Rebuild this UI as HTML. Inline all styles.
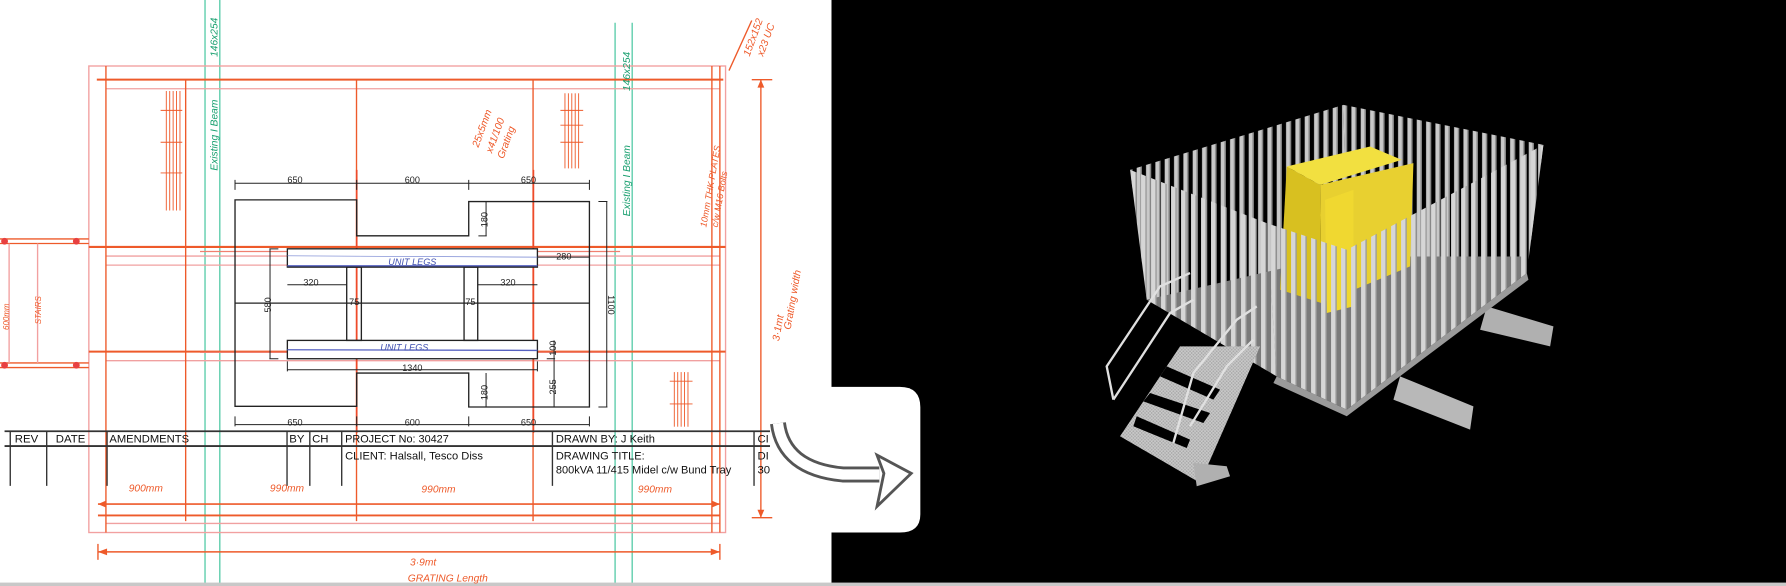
<!DOCTYPE html>
<html><head><meta charset="utf-8"><style>
html,body{margin:0;padding:0;background:#fff}
svg{display:block}
text{font-family:"Liberation Sans",sans-serif}
</style></head><body>
<svg width="1786" height="586" viewBox="0 0 1568 515" preserveAspectRatio="none" xmlns="http://www.w3.org/2000/svg">
<defs>
<pattern id="bars" width="28" height="40" patternUnits="userSpaceOnUse">
<rect x="2" y="0" width="15" height="40" fill="#c9c9c9"/>
<rect x="13" y="0" width="4" height="40" fill="#8a8a8a"/>
</pattern>
<pattern id="bars2" width="30" height="40" patternUnits="userSpaceOnUse">
<rect x="3" y="0" width="17" height="40" fill="#d6d6d6"/>
<rect x="16" y="0" width="4" height="40" fill="#9a9a9a"/>
</pattern>
<pattern id="mesh" width="10" height="10" patternUnits="userSpaceOnUse">
<rect width="10" height="10" fill="#a8a8a8"/><path d="M0 0L10 10M10 0L0 10" stroke="#d0d0d0" stroke-width="2"/>
</pattern>
</defs>
<rect x="0" y="0" width="1568" height="515" fill="#fff"/>
<rect x="730" y="0" width="838" height="515" fill="#000"/>
<path d="M700 340 H790 Q808 340 808 358 V452 Q808 468 790 468 H700 Z" fill="#fff"/>
<rect x="0" y="512" width="1568" height="3" fill="#c8c8c8"/>

<!-- green lines -->
<g stroke="#3cc39a" stroke-width="1">
<line x1="180" y1="0" x2="180" y2="512"/><line x1="193" y1="0" x2="193" y2="512"/>
<line x1="540" y1="20" x2="540" y2="512"/><line x1="555" y1="20" x2="555" y2="512"/>
</g>
<!-- red structure -->
<g stroke="#ee5a2a" stroke-width="1.2" fill="none">
<rect x="78" y="58" width="559" height="410" stroke="#f2a0a0"/>
<line x1="85" y1="70" x2="635" y2="70" stroke-width="1.8"/>
<line x1="93" y1="78" x2="632" y2="78" stroke="#f0a0a0"/>
<line x1="78" y1="217" x2="637" y2="217" stroke-width="1.8"/>
<line x1="93" y1="225" x2="632" y2="225" stroke="#f0a0a0"/>
<line x1="93" y1="233" x2="632" y2="233" stroke="#f0a0a0"/>
<line x1="78" y1="309" x2="637" y2="309" stroke-width="1.8"/>
<line x1="93" y1="317" x2="632" y2="317" stroke="#f0a0a0"/>
<line x1="86" y1="453" x2="632" y2="453" stroke-width="1.6"/>
<line x1="93" y1="460" x2="632" y2="460" stroke="#f0a0a0"/>
<line x1="93" y1="58" x2="93" y2="468"/>
<line x1="163" y1="70" x2="163" y2="458"/>
<line x1="313" y1="70" x2="313" y2="458"/>
<line x1="468" y1="70" x2="468" y2="458"/>
<line x1="625" y1="58" x2="625" y2="468"/>
<line x1="632" y1="58" x2="632" y2="468"/>
<line x1="86" y1="443" x2="632" y2="443" stroke-width="1.4"/>
<line x1="86" y1="485" x2="632" y2="485" stroke-width="1.4"/>
<line x1="86" y1="478" x2="86" y2="492"/><line x1="632" y1="478" x2="632" y2="492"/>
<line x1="668" y1="70" x2="668" y2="455"/>
<line x1="660" y1="70" x2="678" y2="70"/><line x1="660" y1="455" x2="678" y2="455"/>
<line x1="640" y1="62" x2="660" y2="18"/>
<!-- left stair stub -->
<line x1="0" y1="210" x2="78" y2="210"/><line x1="0" y1="214" x2="78" y2="214"/>
<line x1="0" y1="319" x2="78" y2="319"/><line x1="0" y1="323" x2="78" y2="323"/>
<line x1="8" y1="214" x2="8" y2="319" stroke="#f2a0a0"/><line x1="33" y1="214" x2="33" y2="319" stroke="#f2a0a0"/>
<!-- hatches -->
<g stroke-width="0.8">
<line x1="146" y1="80" x2="146" y2="185"/><line x1="149" y1="80" x2="149" y2="185"/><line x1="152" y1="80" x2="152" y2="185"/><line x1="155" y1="80" x2="155" y2="185"/><line x1="158" y1="80" x2="158" y2="185"/>
<line x1="141" y1="97" x2="160" y2="97"/><line x1="141" y1="125" x2="160" y2="125"/><line x1="141" y1="152" x2="160" y2="152"/>
<line x1="496" y1="82" x2="496" y2="148"/><line x1="499" y1="82" x2="499" y2="148"/><line x1="502" y1="82" x2="502" y2="148"/><line x1="505" y1="82" x2="505" y2="148"/><line x1="508" y1="82" x2="508" y2="148"/>
<line x1="492" y1="97" x2="512" y2="97"/><line x1="492" y1="110" x2="512" y2="110"/><line x1="492" y1="125" x2="512" y2="125"/>
<line x1="592" y1="327" x2="592" y2="375"/><line x1="595" y1="327" x2="595" y2="375"/><line x1="598" y1="327" x2="598" y2="375"/><line x1="601" y1="327" x2="601" y2="375"/><line x1="604" y1="327" x2="604" y2="375"/>
<line x1="588" y1="335" x2="608" y2="335"/><line x1="588" y1="355" x2="608" y2="355"/>
</g>
</g>
<g fill="#e84040"><circle cx="4" cy="212" r="3"/><circle cx="67" cy="212" r="3"/><circle cx="4" cy="321" r="3"/><circle cx="67" cy="321" r="3"/></g>
<g fill="#ee5a2a"><path d="M86 443 l7 -3 v6z M632 443 l-7 -3 v6z M86 485 l8 -3 v6z M632 485 l-8 -3 v6z M668 70 l-3 7 h6z M668 455 l-3 -7 h6z"/></g>

<!-- black central drawing -->
<g transform="translate(175.6,149.3) scale(0.2927)" fill="none" stroke="#222" stroke-width="4">
<line x1="470" y1="0" x2="470" y2="790" stroke="#ee4a2a" stroke-width="5"/>
<line x1="1000" y1="0" x2="1000" y2="790" stroke="#ee4a2a" stroke-width="5"/>
<line x1="0" y1="245" x2="1260" y2="245" stroke="#f08070" stroke-width="4"/>
<line x1="0" y1="548" x2="1260" y2="548" stroke="#f08070" stroke-width="4"/>
<path d="M105 90H470V198H806V95H1168V712H806V610H470V710H105Z"/>
<line x1="105" y1="400" x2="1168" y2="400"/>
<rect x="262" y="237" width="750" height="55" fill="#fff"/>
<line x1="262" y1="288" x2="1012" y2="288" stroke="#5560c0"/>
<line x1="262" y1="258" x2="1012" y2="262" stroke="#7080d0" stroke-width="2"/>
<rect x="262" y="512" width="750" height="55" fill="#fff"/>
<line x1="262" y1="540" x2="1012" y2="542" stroke="#5560c0"/>
<rect x="440" y="292" width="44" height="220"/><rect x="792" y="292" width="41" height="220"/>
<g stroke-width="3">
<path d="M105 40H1168M105 30V60M470 30V60M806 30V60M1168 30V60"/>
<path d="M105 765H1168M105 740V770M470 740V770M806 740V770M1168 740V770"/>
<path d="M1220 95V712M1195 95H1222M1195 712H1222"/>
<path d="M210 237V567M208 237H235M208 567H235"/>
<path d="M262 345H440M833 345H1012M1012 262H1168M262 600H1012M262 575V605M1012 575V605"/>
<path d="M858 95V198M835 198H860M858 610V712M1062 512V712M1040 567H1065"/>
</g>
</g>
<g font-size="8" fill="#222" text-anchor="middle">
<text x="259" y="161">650</text><text x="362" y="161">600</text><text x="464" y="161">650</text>
<text x="259" y="374">650</text><text x="362" y="374">600</text><text x="464" y="374">650</text>
<text x="273" y="251">320</text><text x="446" y="251">320</text>
<text x="311" y="268">75</text><text x="413" y="268">75</text>
<text x="495" y="228">280</text><text x="362" y="326">1340</text>
<text transform="translate(238,268) rotate(-90)">580</text>
<text transform="translate(534,268) rotate(90)">1100</text>
<text transform="translate(428,193) rotate(-90)">180</text>
<text transform="translate(428,345) rotate(-90)">180</text>
<text transform="translate(488,340) rotate(-90)">255</text>
<text transform="translate(488,306) rotate(-90)">100</text>
</g>
<g font-size="8" fill="#4050b0" font-style="italic" text-anchor="middle"><text x="362" y="233">UNIT LEGS</text><text x="355" y="308">UNIT LEGS</text></g>

<!-- title block -->
<g stroke="#333" stroke-width="1.2">
<line x1="4" y1="379" x2="676" y2="379" stroke-width="1.6"/>
<line x1="4" y1="392" x2="676" y2="392" stroke-width="1.6"/>
<line x1="9" y1="379" x2="9" y2="427"/><line x1="41" y1="379" x2="41" y2="427"/>
<line x1="94" y1="379" x2="94" y2="427"/><line x1="252" y1="379" x2="252" y2="427"/>
<line x1="272" y1="379" x2="272" y2="427"/><line x1="300" y1="379" x2="300" y2="427"/>
<line x1="485" y1="379" x2="485" y2="427"/><line x1="662" y1="379" x2="662" y2="427"/>
</g>
<g font-size="10" fill="#111">
<text x="13" y="389">REV</text><text x="49" y="389">DATE</text>
<text x="96" y="389" textLength="70" lengthAdjust="spacingAndGlyphs">AMENDMENTS</text>
<text x="254" y="389">BY</text><text x="274" y="389">CH</text>
<text x="303" y="389" textLength="91" lengthAdjust="spacingAndGlyphs">PROJECT No: 30427</text>
<text x="488" y="389" textLength="87" lengthAdjust="spacingAndGlyphs">DRAWN BY: J Keith</text>
<text x="665" y="389">CI</text>
<text x="303" y="404" textLength="121" lengthAdjust="spacingAndGlyphs">CLIENT: Halsall, Tesco Diss</text>
<text x="488" y="404" textLength="78" lengthAdjust="spacingAndGlyphs">DRAWING TITLE:</text>
<text x="488" y="416" textLength="154" lengthAdjust="spacingAndGlyphs">800kVA 11/415 Midel c/w Bund Tray</text>
<text x="665" y="404">DI</text><text x="665" y="416">30</text>
</g>
<!-- handwriting -->
<g fill="#ee5a2a" font-size="9" font-style="italic" font-family="Liberation Serif,serif">
<text x="113" y="432">900mm</text><text x="237" y="432">990mm</text><text x="370" y="433">990mm</text><text x="560" y="433">990mm</text>
<text x="360" y="497">3·9mt</text><text x="358" y="511">GRATING Length</text>
<text transform="translate(420,130) rotate(-70)">25x5mm</text>
<text transform="translate(432,135) rotate(-70)">x41/100</text>
<text transform="translate(442,140) rotate(-70)">Grating</text>
<text transform="translate(620,200) rotate(-80)" font-size="8">10mm THK PLATES</text>
<text transform="translate(630,200) rotate(-80)" font-size="8">c/w M16 Bolts</text>
<text transform="translate(684,300) rotate(-80)">3·1mt</text>
<text transform="translate(694,290) rotate(-80)">Grating width</text>
<text transform="translate(658,50) rotate(-70)">152x152</text>
<text transform="translate(670,50) rotate(-70)">x23 UC</text>
<text transform="translate(8,290) rotate(-90)" font-size="7">600mm</text>
<text transform="translate(36,285) rotate(-90)" font-size="7">STAIRS</text>
</g>
<g fill="#1aa070" font-size="9" font-style="italic" font-family="Liberation Serif,serif">
<text transform="translate(191,150) rotate(-90)">Existing I Beam</text>
<text transform="translate(191,50) rotate(-90)">146x254</text>
<text transform="translate(553,190) rotate(-90)">Existing I Beam</text>
<text transform="translate(553,80) rotate(-90)">146x254</text>
</g>

<!-- curved arrow -->
<path d="M683 372 Q688 412 740 417 L772 417" fill="none" stroke="#555" stroke-width="14" stroke-linecap="butt"/>
<path d="M683 372 Q688 412 740 417 L772 417" fill="none" stroke="#fff" stroke-width="9"/>
<path d="M770 400 L800 416 L770 445 L776 416 Z" fill="#fff" stroke="#555" stroke-width="2.5"/>

<!-- 3D model -->
<g transform="translate(948.2,87.8) scale(0.2927)">
<polygon points="150,210 790,15 800,470 200,600" fill="url(#bars)"/>
<polygon points="790,15 1390,135 1340,520 800,470" fill="url(#bars)"/>
<polygon points="200,600 590,830 800,930 1340,520 1330,470 760,470" fill="#7a7a7a"/>
<polygon points="620,200 870,140 965,180 720,255" fill="#f2e040"/>
<polygon points="620,200 720,255 725,610 600,570" fill="#d8c020"/>
<polygon points="720,255 1000,190 990,500 725,610" fill="#e8d030"/>
<polygon points="735,300 820,270 820,620 740,640" fill="#f0d830"/>
<polygon points="1220,620 1420,680 1410,740 1200,690" fill="#b0b0b0"/>
<polygon points="960,830 1180,920 1170,990 940,900" fill="#b8b8b8"/>
<polygon points="150,210 560,370 590,830 200,600" fill="url(#bars2)"/>
<polygon points="560,370 800,450 800,930 590,830" fill="url(#bars2)"/>
<polygon points="800,450 1390,135 1340,520 800,930" fill="url(#bars2)"/>
<polygon points="590,830 800,930 1340,520 1345,540 800,950 580,850" fill="#9a9a9a"/>
<polygon points="300,740 540,740 470,900 360,1150 120,1010" fill="url(#mesh)"/>
<polygon points="260,800 420,870 400,900 240,830" fill="#000"/>
<polygon points="210,880 390,940 370,970 190,905" fill="#000"/>
<polygon points="170,950 330,1020 320,1045 160,980" fill="#000"/>
<polygon points="340,1090 440,1100 450,1130 350,1160" fill="#b0b0b0"/>
<g fill="none" stroke="#e0e0e0" stroke-width="7">
<polyline points="100,900 80,800 240,560 330,520"/>
<polyline points="100,900 270,640 340,600"/>
<polyline points="280,1030 340,820 470,660 530,620"/>
<polyline points="330,980 440,800 520,720"/>
</g>
</g>
</svg>
</body></html>
